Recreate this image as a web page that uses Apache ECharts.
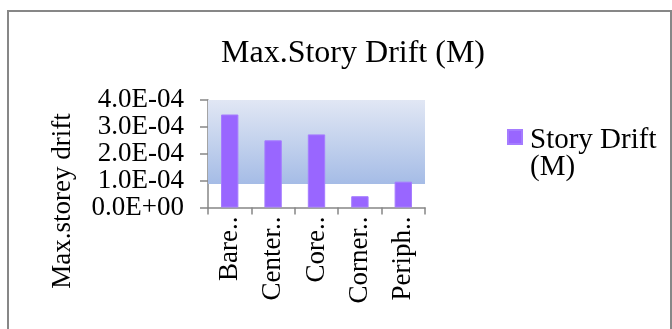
<!DOCTYPE html>
<html>
<head>
<meta charset="utf-8">
<script src="https://cdn.jsdelivr.net/npm/echarts@6/dist/echarts.min.js"></script>
<style>
  html, body { margin: 0; padding: 0; background: #fff; }
  #chart { width: 672px; height: 329px; }
</style>
</head>
<body>
<div id="chart"></div>
<script>
// Maximum story drift per structural configuration
const categories = ['Bare..', 'Center..', 'Core..', 'Corner..', 'Periph..'];
const driftValues = [3.46e-4, 2.50e-4, 2.72e-4, 0.42e-4, 0.96e-4];
const seriesName = 'Story Drift (M)';
const yAxisTitle = 'Max.storey drift';
const yMin = 0;
const yMax = 4e-4;
const yStep = 1e-4;

const FONT = 'Liberation Serif';

// Excel-style scientific label, e.g. 4.0E-04 / 0.0E+00
function sci(v) {
  if (v === 0) return '0.0E+00';
  let exp = Math.floor(Math.log10(Math.abs(v)) + 1e-9);
  let mant = v / Math.pow(10, exp);
  const sign = exp < 0 ? '-' : '+';
  const e = String(Math.abs(exp)).padStart(2, '0');
  return mant.toFixed(1) + 'E' + sign + e;
}

const chart = echarts.init(document.getElementById('chart'), null, { renderer: 'canvas' });

chart.setOption({
  animation: false,
  backgroundColor: '#ffffff',
  textStyle: { fontFamily: FONT, color: '#000' },
  title: {
    text: 'Max.Story Drift (M)',
    left: 348,
    top: 33,
    textAlign: 'center',
    textStyle: { fontFamily: FONT, fontSize: 32, fontWeight: 'normal', color: '#000' }
  },
  graphic: [
    {
      type: 'rect',
      shape: { x: 8, y: 11, width: 663, height: 330 },
      style: { fill: 'none', stroke: '#878787', lineWidth: 2 },
      silent: true
    },
    {
      type: 'text',
      x: 63,
      y: 201,
      rotation: Math.PI / 2,
      style: {
        text: yAxisTitle,
        font: '27px "Liberation Serif"',
        fill: '#000',
        align: 'center',
        verticalAlign: 'middle'
      },
      silent: true
    }
  ],
  legend: {
    left: 507,
    top: 105,
    padding: 0,
    icon: 'rect',
    itemWidth: 14,
    itemHeight: 14,
    formatter: function (name) {
      const parts = name.split(' (');
      return '{e| }\n{a|' + parts[0] + '}\n{a|(' + parts[1] + '}';
    },
    textStyle: {
      fontFamily: FONT, fontSize: 29, color: '#000',
      rich: {
        e: { fontSize: 10, lineHeight: 33 },
        a: { fontFamily: FONT, fontSize: 29, lineHeight: 27, color: '#000', padding: [0, 0, 0, 3] }
      }
    }
  },
  grid: { left: 208, right: 247, top: 100, bottom: 121.5, containLabel: false },
  xAxis: {
    type: 'category',
    data: categories,
    axisLine: { show: true, lineStyle: { color: '#868686', width: 1.5 } },
    axisTick: { show: true, length: 7, lineStyle: { color: '#868686', width: 1.5 } },
    axisLabel: { rotate: 90, margin: 9, fontFamily: FONT, fontSize: 27, color: '#000' }
  },
  yAxis: {
    type: 'value',
    min: yMin,
    max: yMax,
    interval: yStep,
    axisLine: { show: true, lineStyle: { color: '#868686', width: 1.5 } },
    axisTick: { show: true, length: 8, lineStyle: { color: '#868686', width: 1.5 } },
    splitLine: { show: false },
    axisLabel: { margin: 24, fontFamily: FONT, fontSize: 27, color: '#000', formatter: sci }
  },
  series: [{
    name: seriesName,
    type: 'bar',
    data: driftValues,
    barWidth: '40%',
    itemStyle: { color: '#9966FF', borderColor: '#A57CFF', borderWidth: 1 },
    markArea: {
      silent: true,
      itemStyle: {
        color: new echarts.graphic.LinearGradient(0, 0, 0, 1, [
          { offset: 0, color: '#E1E7F4' },
          { offset: 1, color: '#A5BCE6' }
        ])
      },
      data: [[{ yAxis: 4.0e-4 }, { yAxis: 0.87e-4 }]]
    },
    z: 3
  }]
});
</script>
</body>
</html>
